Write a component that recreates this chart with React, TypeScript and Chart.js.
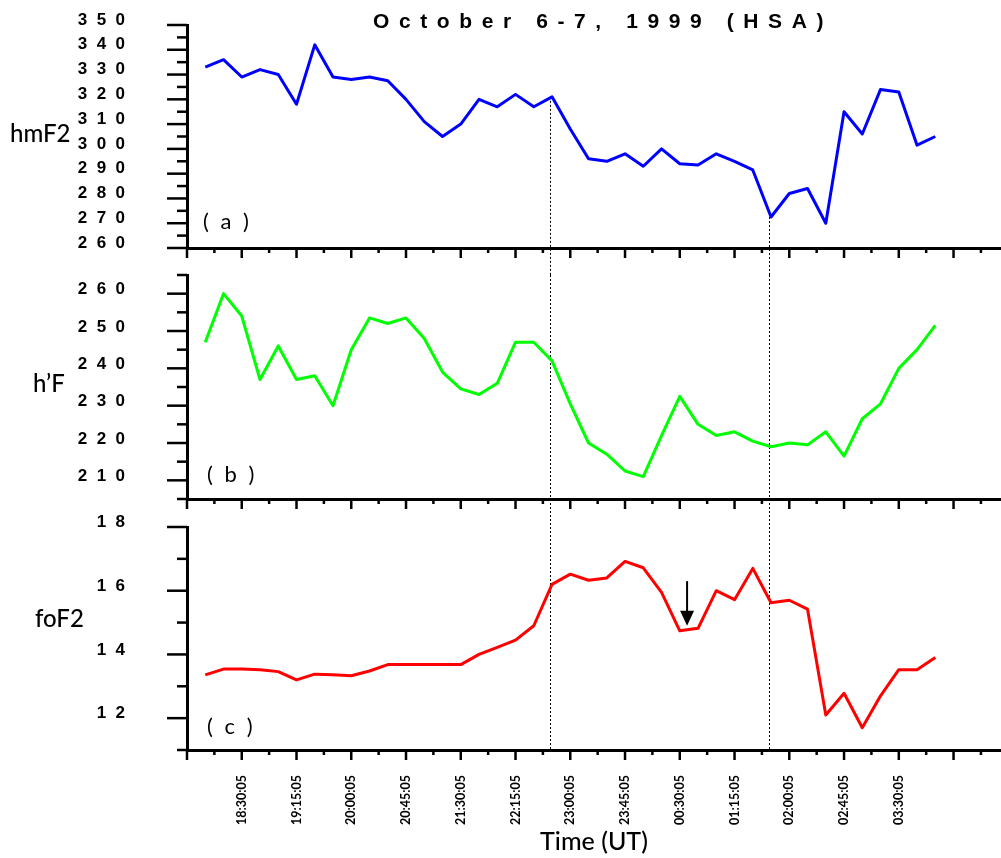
import React, { useEffect, useRef } from 'react';
import { Chart, registerables } from 'chart.js';

Chart.register(...registerables);

// ---------- data ----------
const times = [
  '18:00:05', '18:15:05', '18:30:05', '18:45:05', '19:00:05', '19:15:05', '19:30:05', '19:45:05',
  '20:00:05', '20:15:05', '20:30:05', '20:45:05', '21:00:05', '21:15:05', '21:30:05', '21:45:05',
  '22:00:05', '22:15:05', '22:30:05', '22:45:05', '23:00:05', '23:15:05', '23:30:05', '23:45:05',
  '00:00:05', '00:15:05', '00:30:05', '00:45:05', '01:00:05', '01:15:05', '01:30:05', '01:45:05',
  '02:00:05', '02:15:05', '02:30:05', '02:45:05', '03:00:05', '03:15:05', '03:30:05', '03:45:05',
  '04:00:05',
];

const hmF2 = [
  333, 336, 329, 332, 330, 318, 342, 329, 328, 329, 327.5, 320, 311, 305, 310, 320,
  317, 322, 317, 321, 308, 296, 295, 298, 293, 300, 294, 293.5, 298, 295, 291.5, 272.5,
  282, 284, 270, 315, 306, 324, 323, 301.5, 305,
];

const hF = [
  247, 260, 254, 237, 246, 237, 238, 230, 245, 253.5, 252, 253.5, 248, 239, 234.5, 233,
  236, 247, 247, 242, 230.5, 220, 217, 212.5, 211, 222, 232.5, 225, 222, 223, 220.5, 219,
  220, 219.5, 223, 216.5, 226.5, 230.5, 240, 245, 251.5,
];

const foF2 = [
  13.36, 13.54, 13.54, 13.52, 13.46, 13.2, 13.38, 13.36, 13.33, 13.48, 13.68, 13.68, 13.68,
  13.68, 13.68, 14.0, 14.22, 14.45, 14.9, 16.2, 16.52, 16.33, 16.4, 16.92, 16.72, 15.95,
  14.74, 14.82, 16.0, 15.72, 16.7, 15.62, 15.7, 15.42, 12.1, 12.78, 11.7, 12.7, 13.52,
  13.52, 13.9,
];

const hmF2TickLabels = ['260', '270', '280', '290', '300', '310', '320', '330', '340', '350'];
const hFTickLabels = ['210', '220', '230', '240', '250', '260'];
const foF2TickLabels = ['12', '14', '16', '18'];

const xTickLabels = [
  '18:30:05', '19:15:05', '20:00:05', '20:45:05', '21:30:05', '22:15:05', '23:00:05',
  '23:45:05', '00:30:05', '01:15:05', '02:00:05', '02:45:05', '03:30:05',
];
const xMajorTicks = ['17:45:05', ...xTickLabels, '04:15:05'];
const xMinorTicks = [
  '18:07:35', '18:52:35', '19:37:35', '20:22:35', '21:07:35', '21:52:35', '22:37:35',
  '23:22:35', '00:07:35', '00:52:35', '01:37:35', '02:22:35', '03:07:35', '03:52:35', '04:37:35',
];
const xStart = '17:45:05';
const xEnd = '04:54:05';

const chartTitle = 'October 6-7, 1999 (HSA)';
const xTitle = 'Time (UT)';
const markerIndices = [19, 31];
const arrowTime = '00:36:05';
const arrowFrom = 16.3;
const arrowTo = 14.9;

// ---------- helpers ----------
function clockMin(t: string): number {
  const [h, m, s] = t.split(':').map(Number);
  let v = h * 60 + m + s / 60;
  if (h < 12) v += 1440;
  return v;
}
function toMin(t: string): number {
  return clockMin(t) - clockMin(xStart);
}
const spaced = (s: string) => s.split('').join('  ');

const W = 1001;
const H = 858;

type Panel = {
  values: number[];
  color: string;
  yMin: number;
  yMax: number;
  tickLabels: string[];
  name: string;
  tag: string;
  top: number;
  bottom: number;
  xAxisH: number;
  gapBelow: number;
  nameX: number;
  nameY: number;
  tagX: number;
  tagY: number;
  labelOffset: number;
  showX: boolean;
  first: boolean;
  arrow: boolean;
};

const panels: Panel[] = [
  {
    values: hmF2, color: '#0000ff', yMin: 260, yMax: 350, tickLabels: hmF2TickLabels,
    name: 'hmF2', tag: '( a )', top: 25, bottom: 248, xAxisH: 10, gapBelow: 27,
    nameX: 10, nameY: 142, tagX: 203, tagY: 229, labelOffset: -5, showX: false, first: true, arrow: false,
  },
  {
    values: hF, color: '#00ff00', yMin: 205, yMax: 265, tickLabels: hFTickLabels,
    name: 'h\u2019F', tag: '( b )', top: 275, bottom: 499, xAxisH: 10, gapBelow: 28,
    nameX: 33, nameY: 392, tagX: 207, tagY: 482, labelOffset: -4, showX: false, first: false, arrow: false,
  },
  {
    values: foF2, color: '#ff0000', yMin: 11, yMax: 18, tickLabels: foF2TickLabels,
    name: 'foF2', tag: '( c )', top: 527, bottom: 750, xAxisH: 108, gapBelow: 0,
    nameX: 35, nameY: 627, tagX: 207, tagY: 734, labelOffset: -4.5, showX: true, first: false, arrow: true,
  },
];

function makeDecor(p: Panel) {
  const major = p.tickLabels.map(Number);
  const half = (major[1] - major[0]) / 2;
  const minor: number[] = [];
  for (let v = p.yMin; v <= p.yMax + 1e-9; v += half) {
    if (!major.some((m) => Math.abs(m - v) < 1e-6)) minor.push(v);
  }
  return {
    id: 'decor',
    beforeDatasetsDraw(chart: any) {
      const ctx = chart.ctx;
      const area = chart.chartArea;
      const meta = chart.getDatasetMeta(0);
      ctx.save();
      ctx.strokeStyle = '#000';
      ctx.lineWidth = 1;
      ctx.setLineDash([2, 2]);
      markerIndices.forEach((idx) => {
        const pt = meta.data[idx];
        const x = Math.round(pt.x) - 1.5;
        const y0 = p.first ? pt.y : area.top;
        ctx.beginPath();
        ctx.moveTo(x, y0);
        ctx.lineTo(x, area.bottom + p.gapBelow);
        ctx.stroke();
      });
      ctx.restore();
    },
    afterDraw(chart: any) {
      const ctx = chart.ctx;
      const xs = chart.scales.x;
      const ys = chart.scales.y;
      const area = chart.chartArea;
      ctx.save();
      ctx.strokeStyle = '#000';
      ctx.lineWidth = 2.5;
      const seg = (x1: number, y1: number, x2: number, y2: number) => {
        ctx.beginPath();
        ctx.moveTo(x1, y1);
        ctx.lineTo(x2, y2);
        ctx.stroke();
      };
      major.forEach((v) => {
        const y = ys.getPixelForValue(v);
        seg(area.left - 20, y, area.left, y);
      });
      minor.forEach((v) => {
        const y = ys.getPixelForValue(v);
        seg(area.left - 10, y, area.left, y);
      });
      xMajorTicks.forEach((t) => {
        const x = xs.getPixelForValue(toMin(t));
        seg(x, area.bottom, x, area.bottom + 10);
      });
      xMinorTicks.forEach((t) => {
        const x = xs.getPixelForValue(toMin(t));
        seg(x, area.bottom, x, area.bottom + 5);
      });

      ctx.fillStyle = '#000';
      ctx.textBaseline = 'alphabetic';
      ctx.textAlign = 'left';
      ctx.font = '500 24px Lato, "Open Sans", sans-serif';
      ctx.fillText(p.name, p.nameX, p.nameY);

      ctx.save();
      ctx.font = '22px Lato, "Open Sans", sans-serif';
      (ctx as any).letterSpacing = '3px';
      ctx.fillText(p.tag, p.tagX, p.tagY);
      ctx.restore();

      if (p.first) {
        ctx.save();
        ctx.font = 'bold 21px "Liberation Sans", Arial, sans-serif';
        (ctx as any).letterSpacing = '9.6px';
        ctx.fillText(chartTitle, 373, 28);
        ctx.restore();
      }

      if (p.arrow) {
        const x = xs.getPixelForValue(toMin(arrowTime));
        const y1 = ys.getPixelForValue(arrowFrom);
        const y2 = ys.getPixelForValue(arrowTo);
        ctx.lineWidth = 2;
        seg(x, y1, x, y2 - 12);
        ctx.beginPath();
        ctx.moveTo(x - 7, y2 - 15);
        ctx.lineTo(x + 7, y2 - 15);
        ctx.lineTo(x, y2);
        ctx.closePath();
        ctx.fill();
      }
      ctx.restore();
    },
  };
}

function buildConfig(p: Panel): any {
  const yTicks = p.tickLabels.map(Number);
  const xTicks = xTickLabels.map(toMin);
  return {
    type: 'line',
    data: {
      datasets: [
        {
          data: times.map((t, i) => ({ x: toMin(t), y: p.values[i] })),
          borderColor: p.color,
          borderWidth: 3,
          pointRadius: 0,
          tension: 0,
          fill: false,
          borderJoinStyle: 'round',
        },
      ],
    },
    options: {
      responsive: false,
      animation: false,
      devicePixelRatio: 1,
      events: [],
      layout: {
        padding: { top: p.top, bottom: H - p.bottom - p.xAxisH, left: 0, right: 0 },
      },
      plugins: {
        legend: { display: false },
        tooltip: { enabled: false },
        title: { display: false },
      },
      scales: {
        x: {
          type: 'linear',
          min: 0,
          max: toMin(xEnd),
          grid: { display: false, drawTicks: false },
          border: { display: true, color: '#000', width: 3 },
          ticks: {
            display: p.showX,
            autoSkip: false,
            maxRotation: 90,
            minRotation: 90,
            padding: 25,
            color: '#000',
            font: { family: 'Lato, "Open Sans", sans-serif', size: 12.5, weight: 'bold' },
            callback: (_v: number, i: number) => xTickLabels[i],
          },
          afterBuildTicks: (ax: any) => {
            ax.ticks = xTicks.map((v) => ({ value: v }));
          },
          afterFit: (ax: any) => {
            ax.height = p.xAxisH;
            ax.paddingLeft = 0;
            ax.paddingRight = 0;
          },
          title: {
            display: p.showX,
            text: xTitle,
            color: '#000',
            font: { family: 'Lato, "Open Sans", sans-serif', size: 25, weight: '500' },
            padding: { top: 0, bottom: 1 },
          },
        },
        y: {
          type: 'linear',
          min: p.yMin,
          max: p.yMax,
          grid: { display: false, drawTicks: false },
          border: { display: true, color: '#000', width: 3 },
          ticks: {
            autoSkip: false,
            padding: 62,
            labelOffset: p.labelOffset,
            color: '#000',
            font: { family: '"Liberation Sans", Arial, sans-serif', size: 17, weight: 'bold' },
            callback: (_v: number, i: number) => spaced(p.tickLabels[i]),
          },
          afterBuildTicks: (ax: any) => {
            ax.ticks = yTicks.map((v) => ({ value: v }));
          },
          afterFit: (ax: any) => {
            ax.width = 187;
            ax.paddingTop = 0;
            ax.paddingBottom = 0;
          },
        },
      },
    },
    plugins: [makeDecor(p)],
  };
}

export default function App() {
  const refs = useRef<(HTMLCanvasElement | null)[]>([]);
  useEffect(() => {
    const charts = panels.map((p, i) => new Chart(refs.current[i] as HTMLCanvasElement, buildConfig(p)));
    return () => charts.forEach((c) => c.destroy());
  }, []);
  return (
    <div style={{ position: 'fixed', left: 0, top: 0, width: W, height: H, background: '#fff' }}>
      {panels.map((_p, i) => (
        <canvas
          key={i}
          ref={(el) => {
            refs.current[i] = el;
          }}
          width={W}
          height={H}
          style={{ position: 'absolute', left: 0, top: 0 }}
        />
      ))}
    </div>
  );
}
